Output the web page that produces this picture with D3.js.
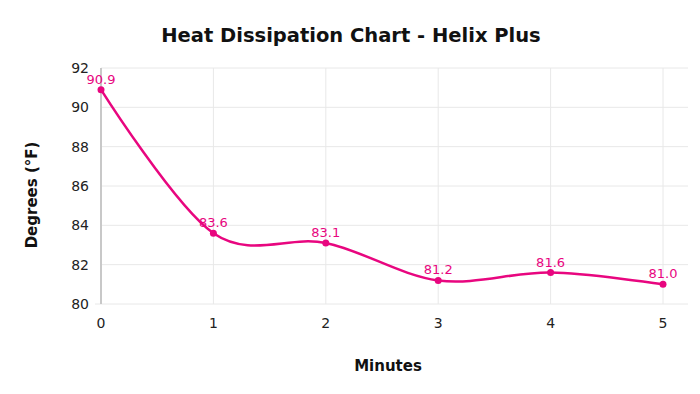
<!DOCTYPE html>
<html>
<head>
<meta charset="utf-8">
<script src="https://cdn.jsdelivr.net/npm/d3@7"></script>
<style>
  body { margin: 0; background: #fff; }
  svg text { font-family: "DejaVu Sans", Verdana, sans-serif; }
</style>
</head>
<body>
<div id="chart"></div>
<script>
// heat dissipation readings, one per minute
const minutes = [0, 1, 2, 3, 4, 5];
const degrees = [90.9, 83.6, 83.1, 81.2, 81.6, 81.0];
const yTicks = [80, 82, 84, 86, 88, 90, 92];

const width = 700,
    height = 394;
const pink = "#e8067f";

const svg = d3.select("#chart")
    .append("svg")
    .attr("width", width)
    .attr("height", height);

const x = d3.scaleLinear()
    .domain([0, 5])
    .range([101, 663]);

const y = d3.scaleLinear()
    .domain([80, 92])
    .range([304, 68]);

const plotRight = 688;

// horizontal grid (bottom one pokes out a little left of the axis)
svg.append("g")
    .selectAll("line")
    .data(yTicks)
    .join("line")
    .attr("x1", d => d === 80 ? x(0) - 6 : x(0))
    .attr("x2", plotRight)
    .attr("y1", d => y(d))
    .attr("y2", d => y(d))
    .attr("stroke", "#e8e8e8")
    .attr("stroke-width", 1);

// vertical grid
svg.append("g")
    .selectAll("line")
    .data(minutes)
    .join("line")
    .attr("x1", d => x(d))
    .attr("x2", d => x(d))
    .attr("y1", y(92))
    .attr("y2", y(80))
    .attr("stroke", "#e8e8e8")
    .attr("stroke-width", 1);

// y axis line
svg.append("line")
    .attr("x1", x(0))
    .attr("x2", x(0))
    .attr("y1", y(92))
    .attr("y2", y(80))
    .attr("stroke", "#c8c8c8")
    .attr("stroke-width", 2);

// tick labels
svg.append("g")
    .selectAll("text")
    .data(yTicks)
    .join("text")
    .attr("x", 89)
    .attr("y", d => y(d))
    .attr("dy", "0.35em")
    .attr("text-anchor", "end")
    .attr("font-size", 14)
    .attr("fill", "#222")
    .text(d => d);

svg.append("g")
    .selectAll("text")
    .data(minutes)
    .join("text")
    .attr("x", d => x(d))
    .attr("y", 328)
    .attr("text-anchor", "middle")
    .attr("font-size", 14)
    .attr("fill", "#222")
    .text(d => d);

// the curve
const line = d3.line()
    .x((d, i) => x(minutes[i]))
    .y(d => y(d))
    .curve(d3.curveCatmullRom.alpha(0));

svg.append("path")
    .datum(degrees)
    .attr("d", line)
    .attr("fill", "none")
    .attr("stroke", pink)
    .attr("stroke-width", 2.5);

svg.append("g")
    .selectAll("circle")
    .data(degrees)
    .join("circle")
    .attr("cx", (d, i) => x(minutes[i]))
    .attr("cy", d => y(d))
    .attr("r", 3.5)
    .attr("fill", pink);

svg.append("g")
    .selectAll("text")
    .data(degrees)
    .join("text")
    .attr("x", (d, i) => x(minutes[i]))
    .attr("y", d => y(d) - 6)
    .attr("text-anchor", "middle")
    .attr("font-size", 13)
    .attr("fill", pink)
    .text(d => d.toFixed(1));

// titles
svg.append("text")
    .attr("x", 351)
    .attr("y", 42)
    .attr("text-anchor", "middle")
    .attr("font-size", 19.5)
    .attr("font-weight", "bold")
    .attr("fill", "#111")
    .text("Heat Dissipation Chart - Helix Plus");

svg.append("text")
    .attr("x", 388)
    .attr("y", 371)
    .attr("text-anchor", "middle")
    .attr("font-size", 15)
    .attr("font-weight", "bold")
    .attr("fill", "#111")
    .text("Minutes");

svg.append("text")
    .attr("transform", "translate(37,195) rotate(-90)")
    .attr("text-anchor", "middle")
    .attr("font-size", 15)
    .attr("font-weight", "bold")
    .attr("fill", "#111")
    .text("Degrees (°F)");
</script>
</body>
</html>
